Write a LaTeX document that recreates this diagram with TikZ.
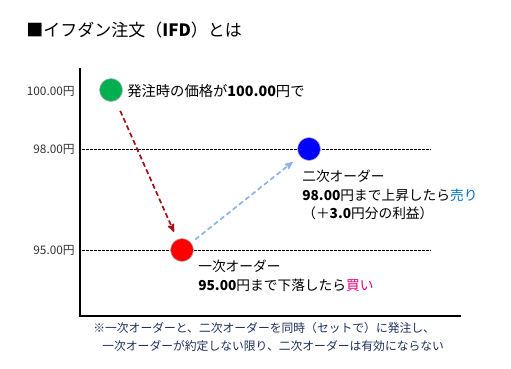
\documentclass[tikz,border=0pt]{standalone}
\usepackage{fontspec}
\setmainfont{Noto Sans CJK JP}
\usetikzlibrary{arrows}
\definecolor{startgreen}{HTML}{00B050}
\definecolor{sellblue}{HTML}{0000FF}
\definecolor{buyred}{HTML}{FF0000}
\definecolor{downred}{HTML}{A50F15}
\definecolor{uplblue}{HTML}{8DB4E2}
\definecolor{selltext}{HTML}{0070C0}
\definecolor{buytext}{HTML}{E4007F}
\definecolor{notenavy}{HTML}{1F2F5C}
\tikzset{
  price/.style={circle,minimum size=23pt,inner sep=0pt,draw=black!30,line width=0.6pt},
  ylabel/.style={anchor=east,inner sep=0pt,text=black!80,font=\fontsize{11.8}{13}\selectfont},
  memo/.style={anchor=north west,inner sep=0pt,align=left,font=\fontsize{13.7}{18.5}\selectfont}
}

\begin{document}
\begin{tikzpicture}[x=1pt,y=-1pt,>=stealth',semithick]
  \tikzstyle{axis}=[line width=2.6pt]
  \tikzstyle{level}=[line width=0.6pt,dash pattern=on 2.5pt off 1.5pt]
  \useasboundingbox (0,0) rectangle (511,368);

  \node[anchor=west,inner sep=0pt,font=\fontsize{17}{20}\selectfont] (title) at (26,30)
    {■イフダン注文（\textbf{IFD}）とは};

  % axes and price levels
  \coordinate (ytop) at (80,68);
  \coordinate (xend) at (461,316);
  \draw[axis] (ytop) |- (xend);

  \node[ylabel] (p100) at (75,91)  {100.00円};
  \node[ylabel] (p98)  at (75,149) {98.00円};
  \node[ylabel] (p95)  at (75,250) {95.00円};

  \coordinate (l98a) at (82,149);  \coordinate (l98b) at (431,149);
  \coordinate (l95a) at (82,250);  \coordinate (l95b) at (431,250);
  \draw[level] (l98a) -- (l98b);
  \draw[level] (l95a) -- (l95b);

  % orders
  \node[price,fill=startgreen] (start) at (111,90)  {};
  \node[price,fill=sellblue]   (sell)  at (309,149) {};
  \node[price,fill=buyred]     (buy)   at (182,250) {};

  \node[anchor=west,inner sep=0pt,font=\fontsize{14.3}{16}\selectfont] (starttext) at (127,91)
    {発注時の価格が\textbf{100.00}円で};

  \node[memo] (selltxt) at (302,170)
    {二次オーダー\\\textbf{98.00}円まで上昇したら\textcolor{selltext}{売り}\\（＋\textbf{3.0}円分の利益）};
  \node[memo] (buytxt) at (198,260)
    {一次オーダー\\\textbf{95.00}円まで下落したら\textcolor{buytext}{買い}};

  \draw[->,downred,line width=1.7pt,dash pattern=on 5pt off 3pt,shorten <=11pt,shorten >=8pt]
    (start) -- (buy);
  \draw[->,uplblue,line width=1.7pt,dash pattern=on 5pt off 3pt,shorten <=5pt,shorten >=9pt]
    (buy) -- (sell);

  \node[anchor=north west,inner sep=0pt,align=left,text=notenavy,font=\fontsize{11.8}{18}\selectfont] (note) at (93,322)
    {※一次オーダーと、二次オーダーを同時（セットで）に発注し、\\\hspace*{9pt}一次オーダーが約定しない限り、二次オーダーは有効にならない};
\end{tikzpicture}
\end{document}
